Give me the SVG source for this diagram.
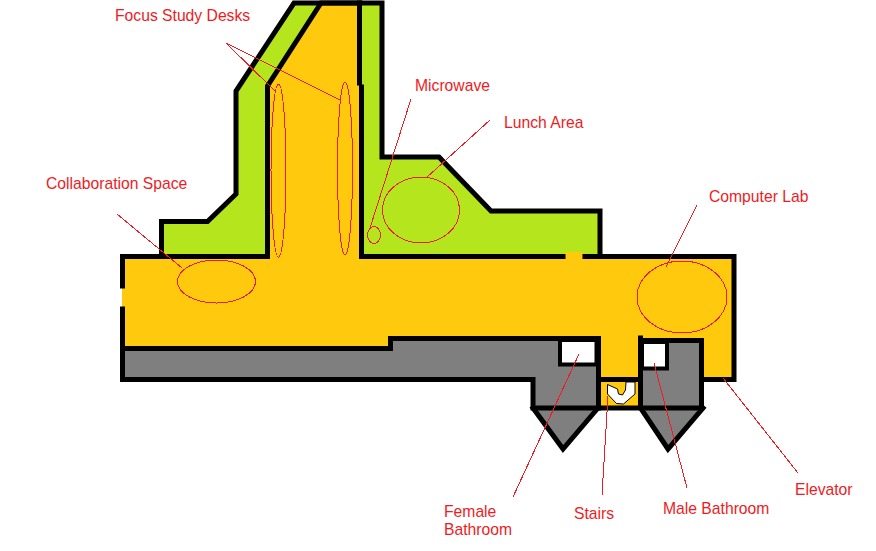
<svg xmlns="http://www.w3.org/2000/svg" width="876" height="551" viewBox="0 0 876 551">
<style>
text{font-family:"Liberation Sans",Arial,sans-serif;font-size:15.700px;fill:#ed1c24}
.w{fill:none;stroke:#000;stroke-width:5;stroke-linejoin:miter;stroke-linecap:square}
.r{fill:none;stroke:#ed1c24;stroke-width:1;shape-rendering:crispEdges}
</style>
<rect width="876" height="551" fill="#fff"/>
<g id="fills">
<polygon fill="#b5e61d" points="293,3 322,3 267,86 267,256 161,256 161,221 208,221 236,195 236,91"/>
<polygon fill="#b5e61d" points="361,4 382,4 382,157 439,157 490,211 600,211 600,256 361,256"/>
<polygon fill="#ffc90e" points="322,3 359,3 359,85 361,85 361,256 734,256 734,380 701,380 701,340 640,340 640,380 598,380 598,338 390,338 390,349 122,349 122,256 267,256 267,86"/>
<polygon fill="#ffc90e" points="600,380 640,380 640,407 600,407"/>
<polygon fill="#7f7f7f" points="122,349 390,349 390,338 598,338 598,408 563,449 533,408 533,380 122,380"/>
<polygon fill="#7f7f7f" points="640,340 701,340 701,408 668,449 640,408"/>
<rect x="565" y="252" width="18" height="7" fill="#ffc90e"/>
<rect x="122" y="288" width="4" height="19" fill="#ffc90e"/>
</g>
<g id="walls">
<path class="w" d="M122.500,286V256.500H267.500M122.500,309V379.500H533V408H598.500V338.500H390.500V348.500H122.500M267.500,256.500V86L321,3H360"/>
<path class="w" d="M161.500,254V221.500H207.500L236,194V91L294,3H382V157H439L491,211H600V254"/>
<path class="w" d="M359.500,3V83M361.500,87V256.500H563M585,256.500H734V379.500H703"/>
<path class="w" d="M598.500,379.500H640.500M598.500,408H640.500M640.500,338V408H701.500V340.500H640.500M701.500,380V408"/>
<path class="w" d="M533,408L563,449L598,408M640.500,408L668,449L703,408"/>
</g>
<g id="fixtures">
<rect x="560" y="340" width="36.500" height="24.500" fill="#fff" stroke="#000" stroke-width="4"/>
<rect x="642" y="342" width="25" height="26.500" fill="#fff" stroke="#000" stroke-width="4"/>
<polygon fill="#fff" stroke="#000" stroke-width="1" points="607.500,384.500 617.500,389 618.500,394 622.500,395 625.500,390 626,382 635,382 635,394 623.500,404 616.500,403.500 607.500,394"/>
</g>
<g id="desks">
<ellipse class="r" cx="278.500" cy="170.500" rx="7.500" ry="86.500"/>
<ellipse class="r" cx="345" cy="168.500" rx="7.500" ry="86.500"/>
<ellipse class="r" cx="374" cy="235" rx="6.500" ry="8.500"/>
<ellipse class="r" cx="421" cy="210" rx="38.500" ry="33"/>
<ellipse class="r" cx="216.500" cy="281.500" rx="39" ry="21.500"/>
<ellipse class="r" cx="682" cy="297" rx="45" ry="36"/>
</g>
<g id="connectors">
<path class="r" d="M226,43L340,100M226,43L275,91M117,214L182,268M411,99L370,228M490,120L426,178M697,205L666,267M579,354L513,497M608,396L602,495M654,363L687,488M723,378L798,473"/>
</g>
<g id="labels">
<text x="115" y="21">Focus Study Desks</text>
<text x="415" y="91">Microwave</text>
<text x="504" y="128">Lunch Area</text>
<text x="46" y="189">Collaboration Space</text>
<text x="709" y="202">Computer Lab</text>
<text x="444" y="517">Female</text>
<text x="444" y="535">Bathroom</text>
<text x="574" y="519">Stairs</text>
<text x="663" y="514">Male Bathroom</text>
<text x="795" y="495">Elevator</text>
</g>
</svg>
